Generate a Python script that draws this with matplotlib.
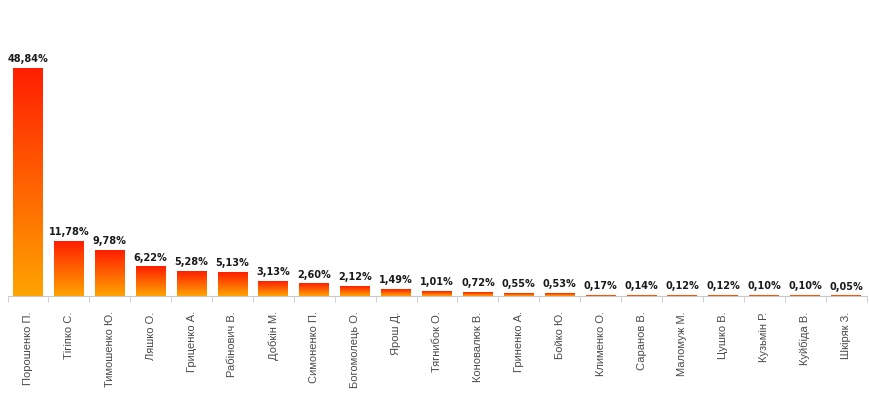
import numpy as np
import matplotlib
matplotlib.use("Agg")
import matplotlib.pyplot as plt
from matplotlib.colors import LinearSegmentedColormap

candidates = ["Порошенко П.", "Тігіпко С.", "Тимошенко Ю.", "Ляшко О.", "Гриценко А.",
              "Рабінович В.", "Добкін М.", "Симоненко П.", "Богомолець О.", "Ярош Д.",
              "Тягнибок О.", "Коновалюк В.", "Гриненко А.", "Бойко Ю.", "Клименко О.",
              "Саранов В.", "Маломуж М.", "Цушко В.", "Кузьмін Р.", "Куйбіда В.", "Шкіряк З."]
values = [48.84, 11.78, 9.78, 6.22, 5.28, 5.13, 3.13, 2.60, 2.12, 1.49, 1.01,
          0.72, 0.55, 0.53, 0.17, 0.14, 0.12, 0.12, 0.10, 0.10, 0.05]

W, H = 869, 393
fig = plt.figure(figsize=(W / 100, H / 100), dpi=100)
ax_left, ax_right = 7.5, 866.5
ax_bottom_px = 296
ax_top_px = 20
ax = fig.add_axes([ax_left / W, (H - ax_bottom_px) / H,
                   (ax_right - ax_left) / W, (ax_bottom_px - ax_top_px) / H])

scale = 228 / 48.84
ymax = (ax_bottom_px - ax_top_px) / scale
n = len(values)
x = np.arange(n)

cmap = LinearSegmentedColormap.from_list("grad", ["#ffa400", "#ff1e00"])
grad = np.linspace(0, 1, 256).reshape(-1, 1)
bw = 0.73
for xi, v in zip(x, values):
    ax.imshow(grad, cmap=cmap, origin="lower", aspect="auto",
              extent=[xi - bw / 2, xi + bw / 2, 0, v], zorder=2, interpolation="bilinear")
    ax.annotate(f"{v:.2f}%".replace(".", ","), (xi, v), xytext=(0, 3),
                textcoords="offset points", ha="center", va="bottom",
                fontsize=7, fontweight="bold", color="#1a1a1a", family="DejaVu Sans")

ax.set_xlim(-0.5, n - 0.5)
ax.set_ylim(0, ymax)
for s in ["top", "right", "left"]:
    ax.spines[s].set_visible(False)
ax.spines["bottom"].set_color("#c8c8c8")
ax.spines["bottom"].set_zorder(1)
ax.set_yticks([])
ax.set_xticks(x)
ax.set_xticklabels(candidates, rotation=90, fontsize=8, color="#4a4a4a",
                   family="Liberation Sans")
ax.tick_params(axis="x", which="major", length=0, pad=11)
ax.set_xticks(np.arange(-0.5, n, 1), minor=True)
ax.tick_params(axis="x", which="minor", length=4, color="#c8c8c8")

fig.savefig("out.png", dpi=100)
